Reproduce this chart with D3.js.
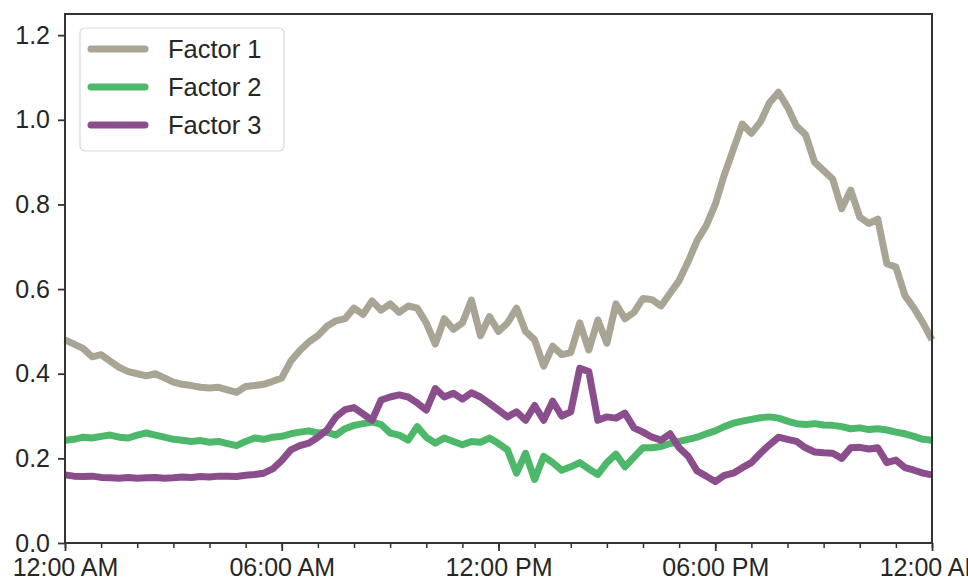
<!DOCTYPE html>
<html>
<head>
<meta charset="utf-8">
<script src="https://cdn.jsdelivr.net/npm/d3@7"></script>
<style>
  html, body { margin: 0; padding: 0; background: #fff; }
  svg { display: block; }
  text { font-family: "Liberation Sans", Arial, sans-serif; }
</style>
</head>
<body>
<svg id="chart" width="968" height="580"></svg>
<script>
// Series names and colours
const seriesNames = ["Factor 1", "Factor 2", "Factor 3"];
const seriesColors = ["#a9a493", "#4db86a", "#8b4e8d"];

// Sample times: every 15 minutes from 12:00 AM to 12:00 AM next day
const sampleStepMinutes = 15;

// Factor 1 values (97 samples)
const factor1 = [
  0.480, 0.470, 0.460, 0.440, 0.445, 0.430, 0.415, 0.405,
  0.400, 0.395, 0.400, 0.390, 0.380, 0.375, 0.372, 0.368,
  0.366, 0.368, 0.362, 0.356, 0.370, 0.372, 0.375, 0.382,
  0.390, 0.430, 0.455, 0.475, 0.490, 0.512, 0.525, 0.530,
  0.555, 0.540, 0.572, 0.550, 0.565, 0.545, 0.560, 0.555,
  0.520, 0.470, 0.530, 0.505, 0.520, 0.574, 0.490, 0.535,
  0.500, 0.520, 0.555, 0.500, 0.480, 0.418, 0.465, 0.445,
  0.450, 0.520, 0.456, 0.527, 0.472, 0.565, 0.530, 0.545,
  0.578, 0.575, 0.560, 0.590, 0.620, 0.665, 0.715, 0.750,
  0.800, 0.870, 0.930, 0.990, 0.968, 0.995, 1.040, 1.065,
  1.030, 0.985, 0.965, 0.900, 0.880, 0.860, 0.790, 0.834,
  0.770, 0.755, 0.765, 0.660, 0.652, 0.585, 0.555, 0.520,
  0.480
];

// Factor 2 values (97 samples)
const factor2 = [
  0.243, 0.245, 0.250, 0.248, 0.252, 0.255, 0.250, 0.248,
  0.255, 0.260, 0.255, 0.250, 0.245, 0.243, 0.240, 0.242,
  0.238, 0.240, 0.235, 0.230, 0.240, 0.248, 0.245, 0.250,
  0.252, 0.258, 0.262, 0.265, 0.260, 0.262, 0.255, 0.270,
  0.278, 0.282, 0.286, 0.280, 0.260, 0.255, 0.243, 0.275,
  0.250, 0.236, 0.248, 0.240, 0.232, 0.240, 0.238, 0.248,
  0.235, 0.220, 0.165, 0.212, 0.150, 0.205, 0.190, 0.172,
  0.180, 0.190, 0.175, 0.162, 0.190, 0.210, 0.180, 0.203,
  0.225, 0.225, 0.228, 0.235, 0.240, 0.245, 0.250, 0.258,
  0.265, 0.275, 0.283, 0.288, 0.292, 0.296, 0.298, 0.295,
  0.288, 0.282, 0.280, 0.282, 0.279, 0.278, 0.275, 0.270,
  0.272, 0.268, 0.270, 0.267, 0.262, 0.258, 0.252, 0.245,
  0.243
];

// Factor 3 values (97 samples)
const factor3 = [
  0.161, 0.158, 0.157, 0.158, 0.155, 0.154, 0.153, 0.155,
  0.153, 0.154, 0.155, 0.153, 0.154, 0.156, 0.155, 0.157,
  0.156, 0.158, 0.158, 0.157, 0.160, 0.162, 0.165, 0.175,
  0.195, 0.220, 0.230, 0.236, 0.250, 0.267, 0.298, 0.315,
  0.320, 0.305, 0.290, 0.338, 0.345, 0.350, 0.345, 0.331,
  0.314, 0.365, 0.345, 0.354, 0.340, 0.355, 0.345, 0.330,
  0.314, 0.298, 0.310, 0.290, 0.325, 0.290, 0.335, 0.300,
  0.310, 0.413, 0.405, 0.290, 0.298, 0.295, 0.307, 0.272,
  0.262, 0.250, 0.243, 0.258, 0.225, 0.205, 0.170, 0.158,
  0.145, 0.160, 0.165, 0.178, 0.190, 0.212, 0.232, 0.250,
  0.245, 0.240, 0.225, 0.215, 0.213, 0.212, 0.200, 0.225,
  0.226, 0.222, 0.225, 0.190, 0.196, 0.178, 0.172, 0.165,
  0.161
];

// Axis ticks
const yTickValues = [0.0, 0.2, 0.4, 0.6, 0.8, 1.0, 1.2];
const xMajorTickHours = [0, 6, 12, 18, 24];
const xTickLabels = ["12:00 AM", "06:00 AM", "12:00 PM", "06:00 PM", "12:00 AM"];

const seriesValues = [factor1, factor2, factor3];

const svg = d3.select("#chart");
const margin = { left: 65, right: 36, top: 14, bottom: 37 };
const W = 968, H = 580;
const plotW = W - margin.left - margin.right;
const plotH = H - margin.top - margin.bottom;

const day0 = new Date(2000, 0, 1, 0, 0);
const day1 = new Date(2000, 0, 2, 0, 0);
const x = d3.scaleTime().domain([day0, day1]).range([0, plotW]);
const y = d3.scaleLinear().domain([0, 1.25]).range([plotH, 0]);

const g = svg.append("g").attr("transform", `translate(${margin.left},${margin.top})`);

const timeAt = i => new Date(day0.getTime() + i * sampleStepMinutes * 60000);

// Lines
const line = d3.line()
  .x((d, i) => x(timeAt(i)))
  .y(d => y(d))
  .curve(d3.curveLinear);

const clipId = "plotclip";
svg.append("defs").append("clipPath").attr("id", clipId)
  .append("rect").attr("x", -4).attr("y", 0).attr("width", plotW + 8).attr("height", plotH);

const linesG = g.append("g").attr("clip-path", `url(#${clipId})`);
seriesValues.forEach((vals, k) => {
  linesG.append("path")
    .datum(vals)
    .attr("d", line)
    .attr("fill", "none")
    .attr("stroke", seriesColors[k])
    .attr("stroke-width", 7)
    .attr("stroke-linejoin", "round")
    .attr("stroke-linecap", "butt");
});

// Axes
const axisColor = "#333333";
const labelColor = "#262626";
const fontSize = 25;

const majorTimes = xMajorTickHours.map(h => new Date(day0.getTime() + h * 3600000));
const xAxis = d3.axisBottom(x)
  .tickValues(majorTimes)
  .tickFormat((d, i) => xTickLabels[i])
  .tickSize(8)
  .tickPadding(7);
const xMinor = d3.axisBottom(x)
  .ticks(d3.timeHour.every(1))
  .tickFormat("")
  .tickSize(5);

const xg = g.append("g").attr("transform", `translate(0,${plotH})`);
xg.append("g").call(xMinor).call(s => { s.select(".domain").remove(); s.selectAll("line").attr("stroke", axisColor).attr("stroke-width", 1.5); });
const xa = xg.append("g").call(xAxis);
xa.select(".domain").remove();
xa.selectAll("line").attr("stroke", axisColor).attr("stroke-width", 1.8);
xa.selectAll("text").attr("font-size", fontSize).attr("fill", labelColor)
  .attr("font-family", "Liberation Sans, Arial, sans-serif");

const yAxis = d3.axisLeft(y)
  .tickValues(yTickValues)
  .tickFormat(d3.format(".1f"))
  .tickSize(7)
  .tickPadding(8);
const ya = g.append("g").call(yAxis);
ya.select(".domain").remove();
ya.selectAll("line").attr("stroke", axisColor).attr("stroke-width", 1.8);
ya.selectAll("text").attr("font-size", fontSize).attr("fill", labelColor)
  .attr("font-family", "Liberation Sans, Arial, sans-serif");

// Frame (spines)
g.append("rect")
  .attr("x", 0).attr("y", 0).attr("width", plotW).attr("height", plotH)
  .attr("fill", "none").attr("stroke", axisColor).attr("stroke-width", 2);

// Legend
const leg = g.append("g").attr("transform", "translate(15,14)");
leg.append("rect")
  .attr("width", 204).attr("height", 123)
  .attr("rx", 5).attr("ry", 5)
  .attr("fill", "#ffffff").attr("fill-opacity", 0.85)
  .attr("stroke", "#d9d9d9").attr("stroke-width", 1.2);
seriesNames.forEach((name, k) => {
  const yy = 21 + k * 38;
  leg.append("line")
    .attr("x1", 11).attr("x2", 65).attr("y1", yy).attr("y2", yy)
    .attr("stroke", seriesColors[k]).attr("stroke-width", 7)
    .attr("stroke-linecap", "round");
  leg.append("text")
    .attr("x", 88).attr("y", yy).attr("dy", "0.36em")
    .attr("font-size", 25.5).attr("fill", labelColor)
    .text(name);
});
</script>
</body>
</html>
